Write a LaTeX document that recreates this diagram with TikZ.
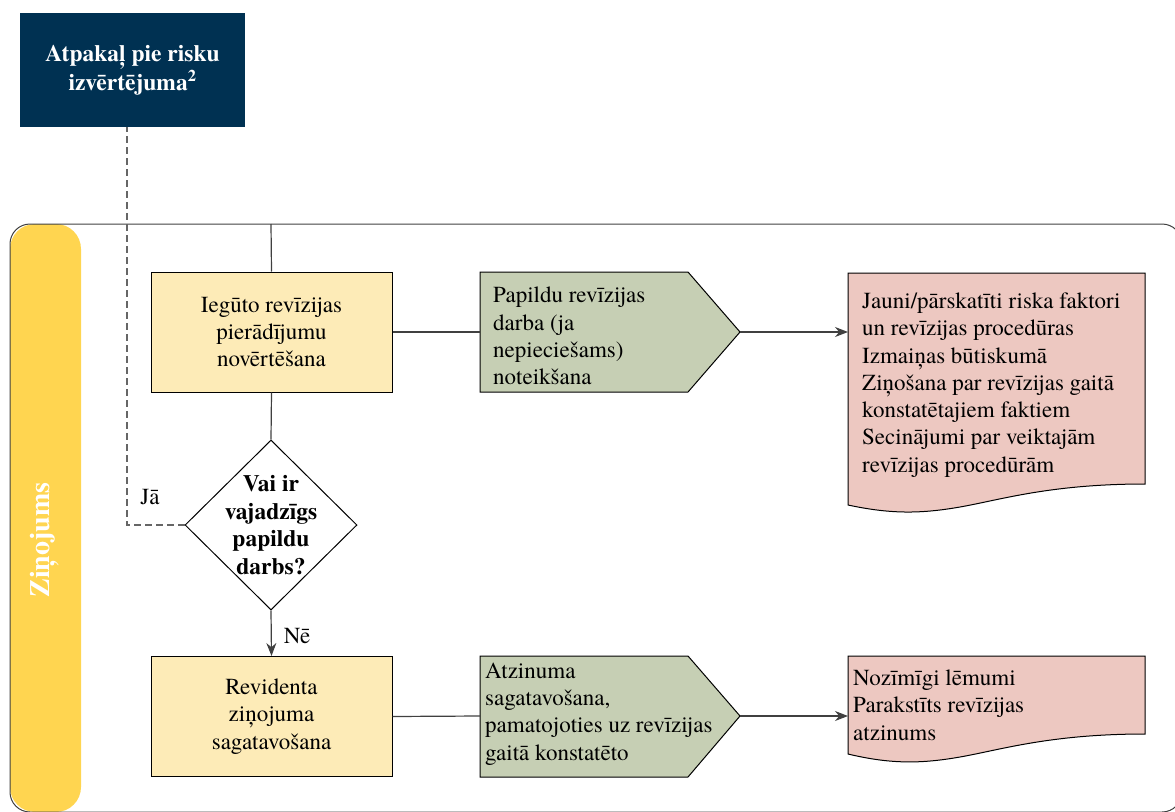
\documentclass[tikz,border=0pt]{standalone}
\usepackage{fontspec}
\setmainfont{texgyretermes}[Extension=.otf, UprightFont=*-regular, BoldFont=*-bold, ItalicFont=*-italic, BoldItalicFont=*-bolditalic]
\usetikzlibrary{shapes.geometric,arrows.meta}

\definecolor{navy}{HTML}{003152}
\definecolor{lane}{HTML}{FFD550}
\definecolor{boxfill}{HTML}{FDEBB7}
\definecolor{pentfill}{HTML}{C6CFB4}
\definecolor{docfill}{HTML}{EDC8C1}
\definecolor{linegray}{HTML}{404040}

\tikzset{
  txt/.style={font=\fontsize{23}{27.3}\selectfont},
  boldtxt/.style={font=\fontsize{23.5}{27.5}\selectfont\bfseries},
  stepbox/.style={draw=black, line width=1pt, fill=boxfill, minimum width=241pt, minimum height=120pt, align=center, txt},
  backbox/.style={fill=navy, minimum width=225pt, minimum height=114pt, align=center, text=white, boldtxt},
  decision/.style={diamond, draw=black, line width=1pt, fill=white, minimum width=172pt, minimum height=170pt, inner sep=0pt},
  pent/.style={draw=black, line width=1pt, fill=pentfill},
  doc/.style={draw=black, line width=1pt, fill=docfill},
  lefttxt/.style={anchor=west, inner sep=0pt, align=left, txt},
  conn/.style={draw=linegray, line width=1.2pt},
  arr/.style={conn, -{Stealth[length=13pt,width=10pt]}},
  back/.style={draw=linegray!80, line width=1.2pt, dash pattern=on 7pt off 4pt},
}

\begin{document}
\begin{tikzpicture}[x=1pt,y=-1pt]
\useasboundingbox (0,0) rectangle (1175,811);

%lane
\fill[lane, rounded corners=25pt] (10,224) rectangle (81,812);
\draw[linegray, line width=1pt, rounded corners=20pt] (10,224) rectangle (1182,812);
\node[white, rotate=90, font=\fontsize{28}{30}\selectfont\bfseries] (zinojums) at (45,540) {Ziņojums};

%back to risk assessment
\node[backbox] (atpakal) at (132.5,70) {Atpakaļ pie risku\\izvērtējuma\textsuperscript{2}};

%boxes
\node[stepbox] (iegutais) at (271.5,332) {Iegūto revīzijas\\pierādījumu\\novērtēšana};
\node[decision] (vaiir) at (271,525) {};
\node[boldtxt, align=center, inner sep=0pt] (vaiirtxt) at (vaiir.center) {Vai ir\\vajadzīgs\\papildu\\darbs?};
\node[stepbox] (revidenta) at (271.5,716.5) {Revidenta\\ziņojuma\\sagatavošana};

%first pentagon
\filldraw[pent] (480,272) -- (688,272) -- (740,332) coordinate (papildutip) -- (688,392)
  -- (480,392) -- (480,332) coordinate (papilduin) -- cycle;
\node[lefttxt] (papildu) at (493,336) {Papildu revīzijas\\darba (ja\\nepieciešams)\\noteikšana};

%second pentagon
\filldraw[pent] (480,656) -- (688,656) -- (740,716) coordinate (atzintip) -- (688,777)
  -- (480,777) -- (480,716) coordinate (atzinin) -- cycle;
\node[lefttxt] (atzin) at (485,714) {Atzinuma\\sagatavošana,\\pamatojoties uz revīzijas\\gaitā konstatēto};

%first document
\filldraw[doc] (848,273) -- (1145,273) -- (1145,484)
  .. controls (1050,484) and (1000,500) .. (960,507)
  .. controls (920,514) and (890,514) .. (848,505)
  -- (848,332) coordinate (jauniin) -- cycle;
\node[lefttxt] (jauni) at (862,385) {Jauni/pārskatīti riska faktori\\un revīzijas procedūras\\Izmaiņas būtiskumā\\Ziņošana par revīzijas gaitā\\konstatētajiem faktiem\\Secinājumi par veiktajām\\revīzijas procedūrām};

%second document
\filldraw[doc] (848,656) -- (1145,656) -- (1145,734)
  .. controls (1050,734) and (1000,750) .. (960,757)
  .. controls (920,764) and (890,764) .. (848,754)
  -- (848,716) coordinate (nozin) -- cycle;
\node[lefttxt] (nozim) at (853,705) {Nozīmīgi lēmumi\\Parakstīts revīzijas\\atzinums};

%connectors
\coordinate (lanetop) at (271,224);
\draw[conn] (lanetop) -- (iegutais.north);
\draw[conn] (iegutais.east) -- (papilduin);
\draw[arr] (papildutip) -- (jauniin);
\draw[conn] (iegutais.south) -- (vaiir.north);
\draw[arr] (vaiir.south) -- (revidenta.north);
\draw[conn] (revidenta.east) -- (atzinin);
\draw[arr] (atzintip) -- (nozin);
\draw[back] (vaiir.west) -| ([xshift=-5.5pt]atpakal.south);

%labels
\node[txt] (ja) at (150,497) {Jā};
\node[txt] (ne) at (297,636) {Nē};

\end{tikzpicture}
\end{document}
